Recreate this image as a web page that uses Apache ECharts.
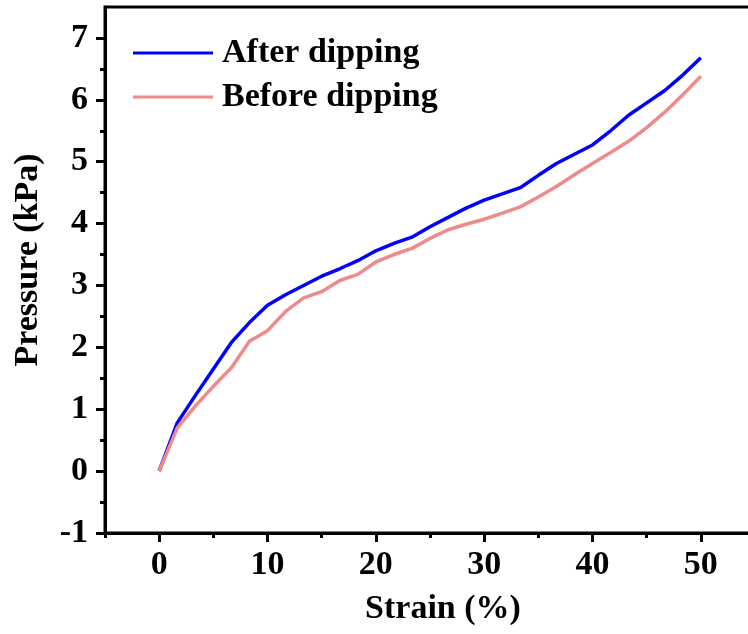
<!DOCTYPE html>
<html>
<head>
<meta charset="utf-8">
<script src="https://cdn.jsdelivr.net/npm/echarts@6/dist/echarts.min.js"></script>
<style>
  html, body { margin: 0; padding: 0; background: #fff; }
  #chart { width: 748px; height: 634px; }
</style>
</head>
<body>
<div id="chart"></div>
<script>
const strain = [0, 1.67, 3.33, 5, 6.67, 8.33, 10, 11.67, 13.33, 15, 16.67, 18.33, 20, 21.67, 23.33, 25,
  26.67, 28.33, 30, 31.67, 33.33, 35, 36.67, 38.33, 40, 41.67, 43.33, 45, 46.67, 48.33, 50];
const afterDipping = [0, 0.78, 1.22, 1.65, 2.08, 2.4, 2.68, 2.85, 3.0, 3.15, 3.27, 3.4, 3.56, 3.68, 3.78, 3.95,
  4.1, 4.25, 4.38, 4.48, 4.58, 4.78, 4.97, 5.12, 5.27, 5.5, 5.75, 5.95, 6.15, 6.4, 6.68];
const beforeDipping = [0, 0.7, 1.05, 1.37, 1.67, 2.1, 2.27, 2.58, 2.8, 2.9, 3.08, 3.18, 3.38, 3.5, 3.6, 3.76,
  3.9, 3.99, 4.07, 4.17, 4.27, 4.43, 4.6, 4.79, 4.97, 5.15, 5.33, 5.55, 5.8, 6.08, 6.38];
const xTicks = [0, 10, 20, 30, 40, 50];
const xMinorTicks = [-5, 5, 15, 25, 35, 45, 55];
const yTicks = [-1, 0, 1, 2, 3, 4, 5, 6, 7];
const yMinorTicks = [-0.5, 0.5, 1.5, 2.5, 3.5, 4.5, 5.5, 6.5];

function pairs(xs, ys) {
  const arr = [];
  for (let i = 0; i < xs.length; i++) {
    arr.push([xs[i], ys[i]]);
  }
  return arr;
}

const font = 'Liberation Serif';
const black = '#000';
const fontSize = 34;

const chartDom = echarts.init(document.getElementById('chart'));
const option = {
  animation: false,
  grid: {
    left: 105,
    right: -7,
    top: 7,
    bottom: 101,
    show: true,
    borderColor: black,
    borderWidth: 3,
    outerBoundsMode: 'none'
  },
  legend: {
    orient: 'vertical',
    left: 133,
    top: 36,
    padding: 0,
    itemWidth: 80,
    itemHeight: 3,
    itemGap: 10,
    icon: 'rect',
    selectedMode: false,
    textStyle: {
      fontFamily: font,
      fontWeight: 'bold',
      fontSize: fontSize,
      lineHeight: 34,
      color: black,
      padding: [0, 0, 0, 4]
    },
    data: ['After dipping', 'Before dipping']
  },
  xAxis: [{
    type: 'value',
    min: -5,
    max: 55,
    name: 'Strain (%)',
    nameLocation: 'middle',
    nameGap: 59,
    nameTextStyle: {
      fontFamily: font,
      fontWeight: 'bold',
      fontSize: fontSize,
      color: black,
      padding: [0, 0, 0, 26]
    },
    splitLine: { show: false },
    axisLine: { onZero: false, lineStyle: { color: black, width: 3 } },
    axisTick: {
      customValues: xTicks,
      length: 9,
      lineStyle: { color: black, width: 3 }
    },
    axisLabel: {
      customValues: xTicks,
      margin: 15,
      fontFamily: font,
      fontWeight: 'bold',
      fontSize: fontSize,
      color: black
    }
  }, {
    type: 'value',
    position: 'bottom',
    min: -5,
    max: 55,
    splitLine: { show: false },
    axisLine: { show: false, onZero: false },
    axisTick: {
      customValues: xMinorTicks,
      length: 5,
      lineStyle: { color: black, width: 3 }
    },
    axisLabel: { show: false }
  }],
  yAxis: [{
    type: 'value',
    min: -1,
    max: 7.5,
    name: 'Pressure (kPa)',
    nameLocation: 'middle',
    nameGap: 60,
    nameTextStyle: {
      fontFamily: font,
      fontWeight: 'bold',
      fontSize: fontSize,
      color: black,
      padding: [0, 0, 0, 20]
    },
    splitLine: { show: false },
    axisLine: { onZero: false, lineStyle: { color: black, width: 3 } },
    axisTick: {
      customValues: yTicks,
      length: 9,
      lineStyle: { color: black, width: 3 }
    },
    axisLabel: {
      customValues: yTicks,
      margin: 17,
      fontFamily: font,
      fontWeight: 'bold',
      fontSize: fontSize,
      color: black
    }
  }, {
    type: 'value',
    position: 'left',
    min: -1,
    max: 7.5,
    splitLine: { show: false },
    axisLine: { show: false, onZero: false },
    axisTick: {
      customValues: yMinorTicks,
      length: 5,
      lineStyle: { color: black, width: 3 }
    },
    axisLabel: { show: false }
  }],
  series: [{
    name: 'After dipping',
    type: 'line',
    data: pairs(strain, afterDipping),
    symbol: 'none',
    itemStyle: { color: '#0000FF' },
    lineStyle: { color: '#0000FF', width: 3.5 }
  }, {
    name: 'Before dipping',
    type: 'line',
    data: pairs(strain, beforeDipping),
    symbol: 'none',
    itemStyle: { color: '#F08A8A' },
    lineStyle: { color: '#F08A8A', width: 3.5 }
  }]
};
chartDom.setOption(option);
</script>
</body>
</html>
